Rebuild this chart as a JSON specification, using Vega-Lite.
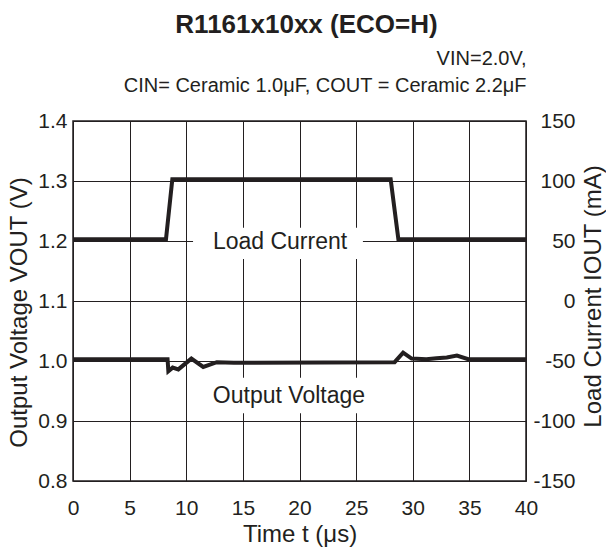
{
  "$schema": "https://vega.github.io/schema/vega-lite/v6.json",
  "width": 453,
  "height": 360,
  "autosize": {"type": "none"},
  "padding": {"left": 73, "top": 121, "right": 80, "bottom": 71},
  "title": {"text": "R1161x10xx (ECO=H)", "fontSize": 26, "fontWeight": "bold", "font": "Liberation Sans", "color": "#231f20", "anchor": "middle", "frame": "group", "dx": 7, "offset": 10},
  "config": {
    "font": "Liberation Sans",
    "view": {"stroke": "#231f20", "strokeWidth": 1.5},
    "axis": {"labelFont": "Liberation Sans", "titleFont": "Liberation Sans", "labelFontSize": 21, "titleFontSize": 24, "labelColor": "#231f20", "titleColor": "#231f20", "titleFontWeight": "normal", "ticks": false, "tickSize": 0, "domain": false, "gridColor": "#231f20", "gridWidth": 1, "gridOpacity": 1, "labelOverlap": false, "labelFlush": false}
  },
  "datasets": {
    "vout": [
      {"t": 0, "v": 1.003}, {"t": 8.35, "v": 1.003}, {"t": 8.42, "v": 0.983}, {"t": 8.8, "v": 0.989},
      {"t": 9.3, "v": 0.986}, {"t": 10.45, "v": 1.004}, {"t": 11.5, "v": 0.990}, {"t": 12.7, "v": 0.998},
      {"t": 14.2, "v": 0.997}, {"t": 28.4, "v": 0.998}, {"t": 29.15, "v": 1.014}, {"t": 29.9, "v": 1.004},
      {"t": 31.2, "v": 1.003}, {"t": 32.1, "v": 1.0045}, {"t": 33.0, "v": 1.006}, {"t": 33.9, "v": 1.009},
      {"t": 34.9, "v": 1.003}, {"t": 40, "v": 1.003}
    ],
    "iout": [
      {"t": 0, "i": 51.5}, {"t": 8.21, "i": 51.5}, {"t": 8.77, "i": 101.5}, {"t": 28.05, "i": 101.5}, {"t": 28.73, "i": 51.5}, {"t": 40, "i": 51.5}
    ],
    "boxes": [
      {"t1": 10.6, "t2": 25.6, "v1": 1.17, "v2": 1.222},
      {"t1": 10.7, "t2": 27.2, "v1": 0.913, "v2": 0.972}
    ],
    "labels": [
      {"t": 18.28, "v": 1.198, "label": "Load Current"},
      {"t": 19.07, "v": 0.9417, "label": "Output Voltage"}
    ]
  },
  "layer": [
    {
      "data": {"name": "vout"},
      "mark": {"type": "line", "strokeWidth": 4, "color": "#231f20", "strokeJoin": "miter", "opacity": 0},
      "encoding": {
        "x": {"field": "t", "type": "quantitative", "scale": {"domain": [0, 40], "nice": false, "zero": false}, "axis": {"orient": "bottom", "title": "Time t (μs)", "values": [0, 5, 10, 15, 20, 25, 30, 35, 40], "grid": true, "labelPadding": 16, "titlePadding": 4}},
        "y": {"field": "v", "type": "quantitative", "scale": {"domain": [0.8, 1.4], "nice": false, "zero": false}, "axis": {"orient": "left", "title": "Output Voltage VOUT (V)", "values": [0.8, 0.9, 1.0, 1.1, 1.2, 1.3, 1.4], "format": ".1f", "grid": true, "labelPadding": 6, "titleX": -54, "titleY": 191, "titleAngle": 270, "titleAlign": "center", "titleBaseline": "middle"}}
      }
    },
    {
      "data": {"name": "boxes"},
      "mark": {"type": "rect", "fill": "white", "stroke": null},
      "encoding": {
        "x": {"field": "t1", "type": "quantitative", "scale": {"domain": [0, 40], "nice": false, "zero": false}, "axis": null},
        "x2": {"field": "t2"},
        "y": {"field": "v1", "type": "quantitative", "scale": {"domain": [0.8, 1.4], "nice": false, "zero": false}, "axis": null},
        "y2": {"field": "v2"}
      }
    },
    {
      "data": {"name": "labels"},
      "mark": {"type": "text", "fontSize": 23, "font": "Liberation Sans", "color": "#231f20", "align": "center", "baseline": "middle"},
      "encoding": {
        "x": {"field": "t", "type": "quantitative", "scale": {"domain": [0, 40], "nice": false, "zero": false}, "axis": null},
        "y": {"field": "v", "type": "quantitative", "scale": {"domain": [0.8, 1.4], "nice": false, "zero": false}, "axis": null},
        "text": {"field": "label", "type": "nominal"}
      }
    },
    {
      "data": {"name": "vout"},
      "mark": {"type": "line", "strokeWidth": 4, "color": "#231f20", "strokeJoin": "miter"},
      "encoding": {
        "x": {"field": "t", "type": "quantitative", "scale": {"domain": [0, 40], "nice": false, "zero": false}, "axis": null},
        "y": {"field": "v", "type": "quantitative", "scale": {"domain": [0.8, 1.4], "nice": false, "zero": false}, "axis": null}
      }
    },
    {
      "data": {"name": "iout"},
      "mark": {"type": "line", "strokeWidth": 4, "color": "#231f20", "strokeJoin": "miter"},
      "encoding": {
        "x": {"field": "t", "type": "quantitative", "scale": {"domain": [0, 40], "nice": false, "zero": false}, "axis": {"orient": "top", "labels": false, "grid": false, "title": ["VIN=2.0V,", "CIN= Ceramic 1.0μF, COUT = Ceramic 2.2μF"], "titleFontSize": 20, "titleAnchor": "end", "titleAlign": "right", "titlePadding": 26, "titleLineHeight": 27}},
        "y": {"field": "i", "type": "quantitative", "scale": {"domain": [-150, 150], "nice": false, "zero": false}, "axis": {"orient": "right", "title": "Load Current IOUT (mA)", "values": [-150, -100, -50, 0, 50, 100, 150], "labelExpr": "replace(datum.label, '−', '-')", "grid": false, "labelAlign": "right", "labelPadding": 49, "titleX": 67, "titleY": 175, "titleAngle": 270, "titleAlign": "center", "titleBaseline": "middle"}}
      }
    }
  ],
  "resolve": {"scale": {"y": "independent"}, "axis": {"x": "independent", "y": "independent"}}
}
